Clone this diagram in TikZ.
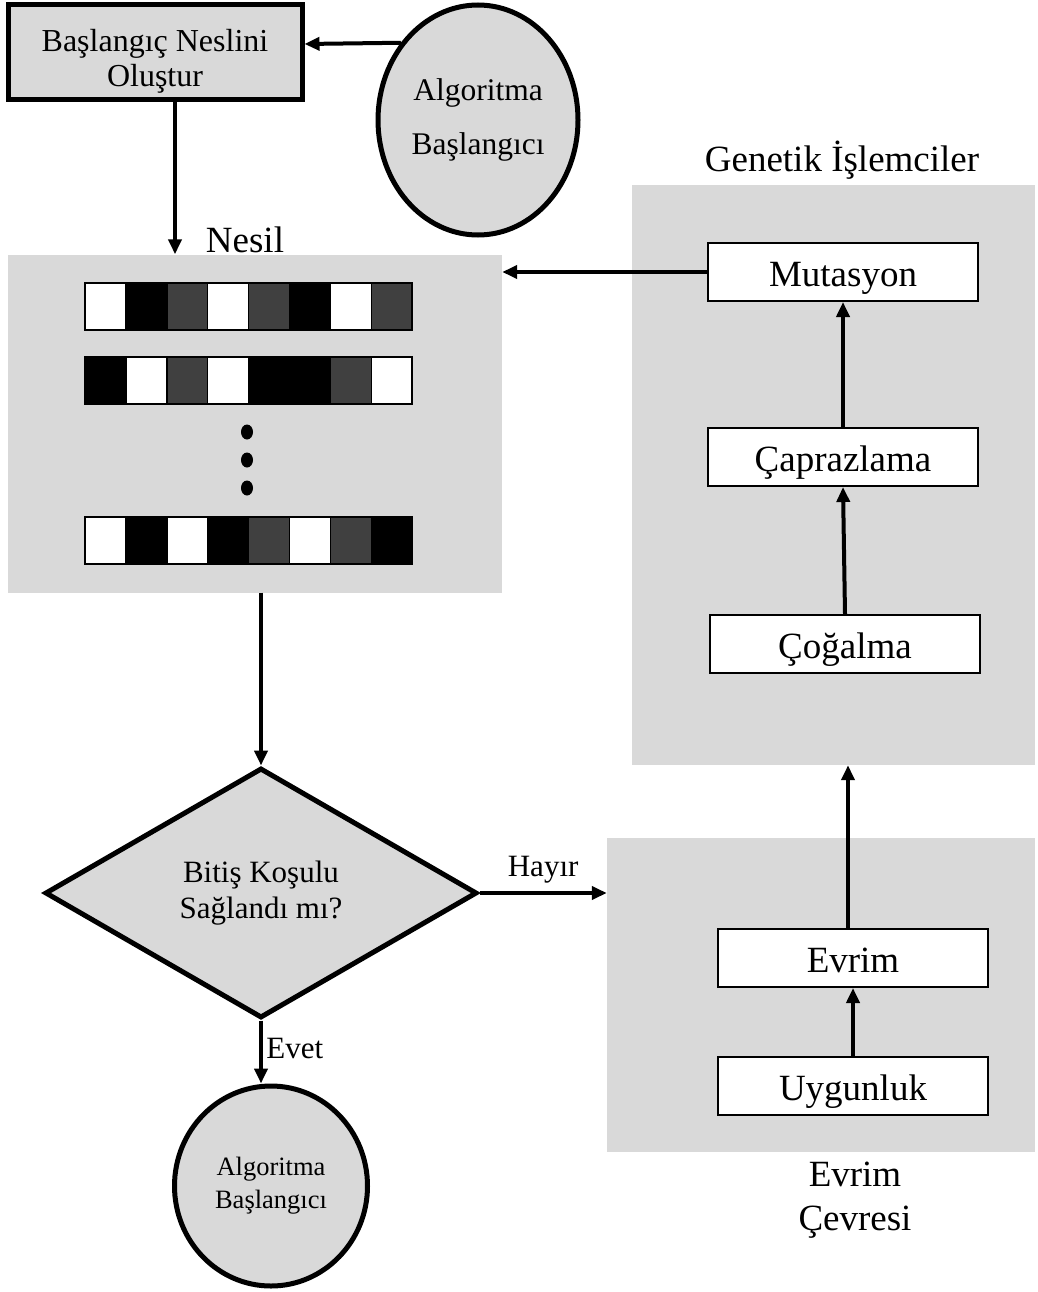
\documentclass[tikz,border=0pt]{standalone}
\usepackage{fontspec}
\setmainfont{Liberation Serif}
\usetikzlibrary{arrows.meta,shapes.geometric}
\definecolor{panelgray}{HTML}{D9D9D9}
\definecolor{dgray}{HTML}{404040}

\begin{document}
\begin{tikzpicture}[x=1pt,y=-1pt,
  panel/.style={fill=panelgray,inner sep=0pt},
  opbox/.style={draw,line width=2pt,fill=white,minimum width=270pt,minimum height=58pt,
    text height=34pt,text depth=6pt,font=\fontsize{37}{44}\selectfont},
  biglbl/.style={font=\fontsize{37}{44}\selectfont,align=center},
  midlbl/.style={font=\fontsize{31}{36}\selectfont,align=center},
  arr/.style={line width=4pt,-{Triangle[length=15pt,width=13pt]}}]
\useasboundingbox (0,0) rectangle (1037,1292);

\node [panel,minimum width=494pt,minimum height=338pt] (pop) at (255,423.5) {};
\node [panel,minimum width=403pt,minimum height=580pt] (gen) at (833.5,475) {};
\node [panel,minimum width=428pt,minimum height=314pt] (env) at (821,995) {};

\foreach \y/\cols in {283/{white,black,dgray,white,dgray,black,white,dgray},
                      357/{black,white,dgray,white,black,black,dgray,white},
                      517/{white,black,white,black,dgray,white,dgray,black}}
  \foreach \c [count=\i] in \cols
    \filldraw [fill=\c,draw=black,line width=1.5pt] ({85+(\i-1)*40.9},\y) rectangle ++(40.9,47);
\foreach \y in {432,460,488}
  \fill (247,\y) ellipse (6pt and 7.5pt);

\node [draw,line width=5pt,fill=panelgray,minimum width=294pt,minimum height=95pt,
  font=\fontsize{32}{35}\selectfont,align=center] (start) at (155,52) {\rule{0pt}{40pt}Başlangıç Neslini\\Oluştur};
\node [ellipse,draw,line width=5pt,fill=panelgray,minimum width=200pt,minimum height=230pt,
  font=\fontsize{31.5}{54}\selectfont,align=center] (algtop) at (478,120) {Algoritma\\Başlangıcı};
\node [biglbl] (nesil) at (245,240) {Nesil};
\node [diamond,draw,line width=5pt,fill=panelgray,minimum width=432pt,minimum height=250pt,
  midlbl] (stop) at (261,893) {Bitiş Koşulu\\Sağlandı mı?};
\node [ellipse,draw,line width=5pt,fill=panelgray,minimum width=193pt,minimum height=200pt,
  font=\fontsize{26.5}{33}\selectfont,align=center] (algbot) at (271,1186) {Algoritma\\Başlangıcı};

\node [biglbl] (genlbl) at (842,160) {Genetik İşlemciler};
\node [opbox] (mut) at (843,272) {Mutasyon};
\node [opbox] (cap) at (843,457) {Çaprazlama};
\node [opbox] (cog) at (845,644) {Çoğalma};
\node [opbox] (evr) at (853,958) {Evrim};
\node [opbox] (uyg) at (853,1086) {Uygunluk};
\node [biglbl] (envlbl) at (855,1200) {Evrim\\Çevresi};

\draw [arr] (algtop.135) -- ([yshift=8pt]start.east);
\draw [arr] ([xshift=20pt]start.south) -- ([xshift=20pt]start.south |- pop.north);
\draw [arr] (mut.west) -- (mut.west -| pop.east);
\draw [arr] (stop.north |- pop.south) -- (stop.north);
\draw [arr] (stop.east) -- node [midlbl,above=4pt] (hayir) {Hayır} (stop.east -| env.west);
\draw [arr] (stop.south) -- node [midlbl,right,pos=0.45] (evet) {Evet} (stop.south |- algbot.north);
\draw [arr] (cog.north) -- (cap.south);
\draw [arr] (cap.north) -- (mut.south);
\draw [arr] (uyg.north) -- (evr.south);
\draw [arr] ([xshift=-5pt]evr.north) -- ([xshift=-5pt]evr.north |- gen.south);
\end{tikzpicture}
\end{document}
